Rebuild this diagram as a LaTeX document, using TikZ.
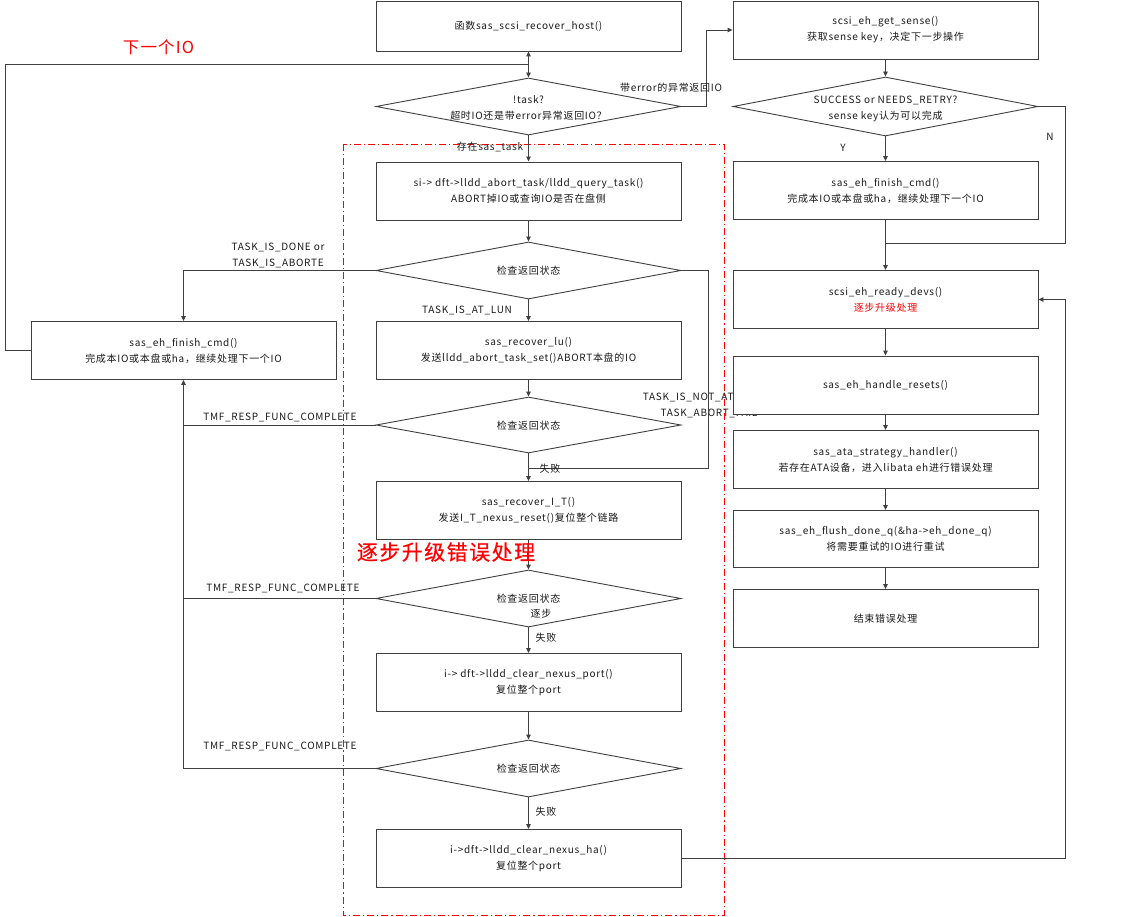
\documentclass[tikz,border=0pt]{standalone}
\usepackage{fontspec}
\setmainfont[LetterSpace=7]{Noto Sans CJK SC}
\newfontfamily\heavycjk[LetterSpace=7,FakeBold=0.6]{Noto Sans CJK SC}
\usetikzlibrary{shapes.geometric,arrows.meta}
\definecolor{linec}{HTML}{404040}
\definecolor{redc}{HTML}{FF0000}
\definecolor{textc}{HTML}{1A1A1A}
\newcommand{\fs}{\fontsize{10}{16}\selectfont}
\begin{document}
\begin{tikzpicture}[x=1pt,y=-1pt,
  box/.style={draw=linec, line width=0.9pt, fill=white, minimum width=305pt, minimum height=58pt, inner sep=0pt, align=center, font=\fs, text=textc},
  dia/.style={draw=linec, line width=0.9pt, fill=white, shape=diamond, minimum width=305pt, minimum height=57pt, inner sep=0pt},
  lab/.style={font=\fs, inner sep=0pt, align=center, text=textc},
  ln/.style={draw=linec, line width=0.9pt},
  arr/.style={ln, -{Triangle[length=5pt,width=4.5pt]}},
  redbox/.style={draw=redc, line width=0.9pt, dash pattern=on 7pt off 3pt on 1.2pt off 3pt}
]
\fill[white] (0,0) rectangle (1124,917);
\useasboundingbox (0,0) rectangle (1124,917);

% red dash-dot region
\draw[redbox] (343,144) rectangle (724,915);

% central column
\node[box, minimum height=50pt] (A) at (528.5,26) {函数sas\_scsi\_recover\_host()};
\node[dia] (D1) at (528.5,106.5) {};
\node[lab] (D1t) at (528.5,108) {!task?\\超时IO还是带error异常返回IO？};
\node[box] (B) at (528.5,191) {si-> dft->lldd\_abort\_task/lldd\_query\_task()\\ABORT掉IO或查询IO是否在盘侧};
\node[dia] (D2) at (528.5,270.5) {};
\node[lab] (D2t) at (528.5,271) {检查返回状态};
\node[box] (C) at (528.5,350.5) {sas\_recover\_lu()\\发送lldd\_abort\_task\_set()ABORT本盘的IO};
\node[dia, minimum height=56pt] (D3) at (528.5,425) {};
\node[lab] (D3t) at (528.5,426) {检查返回状态};
\node[box] (D) at (528.5,510.5) {sas\_recover\_I\_T()\\发送I\_T\_nexus\_reset()复位整个链路};
\node[dia] (D4) at (528.5,598.5) {};
\node[lab] (D4t) at (528.5,599) {检查返回状态};
\node[lab] (D4u) at (541,614) {逐步};
\node[box] (E) at (528.5,682.5) {i-> dft->lldd\_clear\_nexus\_port()\\复位整个port};
\node[dia] (D5) at (528.5,768.5) {};
\node[lab] (D5t) at (528.5,769) {检查返回状态};
\node[box] (F) at (528.5,858.5) {i->dft->lldd\_clear\_nexus\_ha()\\复位整个port};

% left box
\node[box] (L) at (183.5,350.5) {sas\_eh\_finish\_cmd()\\完成本IO或本盘或ha，继续处理下一个IO};

% label partly hidden by right column
\node[lab] (notat) at (709,405.5) {TASK\_IS\_NOT\_AT\_LUN or\\TASK\_ABORT\_FAIL};

% right column
\node[box] (R1) at (885.5,30) {scsi\_eh\_get\_sense()\\获取sense key，决定下一步操作};
\node[dia, minimum height=59pt] (RD) at (885.5,106.5) {};
\node[lab] (RDt) at (885.5,108.5) {SUCCESS or NEEDS\_RETRY?\\sense key认为可以完成};
\node[box] (R2) at (885.5,190.5) {sas\_eh\_finish\_cmd()\\完成本IO或本盘或ha，继续处理下一个IO};
\node[box] (R3) at (885.5,299.5) {scsi\_eh\_ready\_devs()\\{\color{redc}逐步升级处理}};
\node[box] (R4) at (885.5,385) {sas\_eh\_handle\_resets()};
\node[box] (R5) at (885.5,459.5) {sas\_ata\_strategy\_handler()\\若存在ATA设备，进入libata eh进行错误处理};
\node[box, minimum height=57pt] (R6) at (885.5,539) {sas\_eh\_flush\_done\_q(\&ha->eh\_done\_q)\\将需要重试的IO进行重试};
\node[box] (R7) at (885.5,618.5) {结束错误处理};

% coordinates
\coordinate (lp1) at (5,64);
\coordinate (lp2) at (528.5,64);
\coordinate (c1) at (706,106.5);
\coordinate (c2) at (708,270.5);
\coordinate (c3) at (528.5,468);
\coordinate (j0) at (183.5,425);
\coordinate (j1) at (183.5,598.5);
\coordinate (c4) at (1065,858.5);
\coordinate (c5) at (1065,106.5);
\coordinate (c6) at (885.5,243);

% connectors central
\draw[ln, {Triangle[length=5pt,width=4.5pt]}-{Triangle[length=5pt,width=4.5pt]}] (A.south) -- (D1.north);
\draw[ln] (L.west) -| (lp1) -- (lp2);
\draw[arr] (D1.east) -- (c1) |- (R1.west);
\draw[arr] (D1.south) -- (B.north);
\draw[arr] (B.south) -- (D2.north);
\draw[arr] (D2.west) -| (L.north);
\draw[arr] (D2.south) -- (C.north);
\draw[ln] (D2.east) -- (c2) |- (c3);
\draw[arr] (C.south) -- (D3.north);
\draw[arr] (D3.west) -| (L.south);
\draw[arr] (D3.south) -- (D.north);
\draw[arr] (D.south) -- (D4.north);
\draw[ln] (D4.west) -- (j1);
\draw[ln] (D5.west) -| (j0);
\draw[arr] (D4.south) -- (E.north);
\draw[arr] (E.south) -- (D5.north);
\draw[arr] (D5.south) -- (F.north);
\draw[arr] (F.east) -- (c4) |- (R3.east);

% connectors right
\draw[arr] (R1.south) -- (RD.north);
\draw[arr] (RD.south) -- (R2.north);
\draw[ln] (RD.east) -- (c5) |- (c6);
\draw[arr] (R2.south) -- (R3.north);
\draw[arr] (R3.south) -- (R4.north);
\draw[arr] (R4.south) -- (R5.north);
\draw[arr] (R5.south) -- (R6.north);
\draw[arr] (R6.south) -- (R7.north);

% labels
\node[lab, text=redc, font=\fontsize{16.5}{18}\selectfont] (nextio) at (158.5,47) {下一个IO};
\node[lab] (errl) at (671,88) {带error的异常返回IO};
\node[lab] (exist) at (490,147.5) {存在sas\_task};
\node[lab] (done) at (278,255) {TASK\_IS\_DONE or\\TASK\_IS\_ABORTE};
\node[lab] (atlun) at (467,310) {TASK\_IS\_AT\_LUN};
\node[lab] (tmf1) at (280,417) {TMF\_RESP\_FUNC\_COMPLETE};
\node[lab] (fail1) at (550,469) {失败};
\node[lab, text=redc, font=\heavycjk\fontsize{21}{24}\selectfont] (esc) at (446,552) {逐步升级错误处理};
\node[lab] (tmf2) at (283,588) {TMF\_RESP\_FUNC\_COMPLETE};
\node[lab] (fail2) at (546,638) {失败};
\node[lab] (tmf3) at (280,746) {TMF\_RESP\_FUNC\_COMPLETE};
\node[lab] (fail3) at (546,812) {失败};
\node[lab] (yl) at (843,148) {Y};
\node[lab] (nl) at (1050,137) {N};
\end{tikzpicture}
\end{document}
